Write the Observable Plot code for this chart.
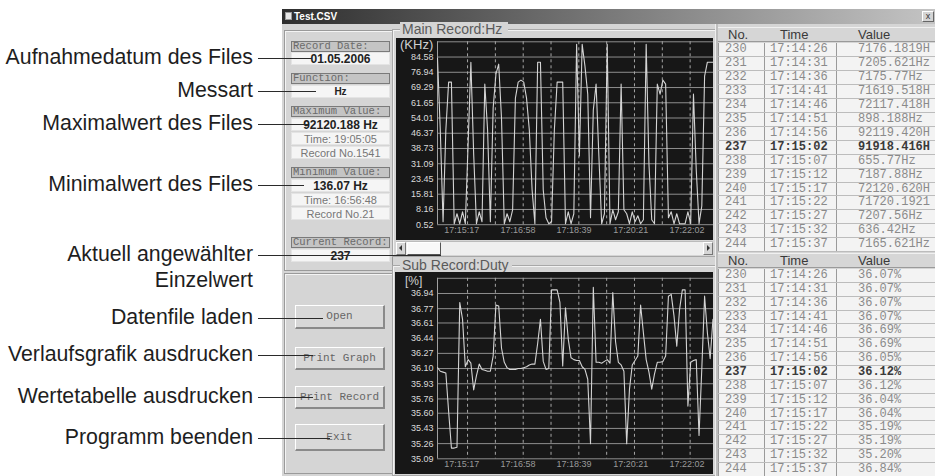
<!DOCTYPE html>
<html><head><meta charset="utf-8">
<script src="https://cdn.jsdelivr.net/npm/d3@7"></script>
<script src="https://cdn.jsdelivr.net/npm/@observablehq/plot@0.6"></script>
<style>
html,body{margin:0;padding:0;background:#fff;}
#root{position:relative;width:935px;height:476px;overflow:hidden;font-family:"Liberation Sans",Arial,sans-serif;}
#root div{box-sizing:border-box;}
.ann{position:absolute;font-size:21.3px;line-height:21px;color:#1e1e1e;white-space:nowrap;text-align:right;}
.wire{position:absolute;height:1px;background:#2a2a2a;}
.lbl{position:absolute;left:291px;width:99px;height:11px;border:1px solid #7a7a7a;background:#c4c4c4;font-family:"Liberation Mono",monospace;font-size:10.5px;line-height:9px;color:#6a6a6a;padding-left:1px;white-space:nowrap;overflow:hidden;}
.val{position:absolute;left:291px;width:99px;height:13px;background:#f5f5f5;border:1px solid #e4e4e4;text-align:center;font-size:11px;line-height:12px;color:#777;white-space:nowrap;}
.val.b{font-weight:bold;color:#222;font-size:12px;}
.btn{position:absolute;left:295px;width:90px;background:#d8d8d8;border-top:1px solid #fff;border-left:1px solid #fff;border-right:2px solid #8a8a8a;border-bottom:2px solid #8a8a8a;font-family:"Liberation Mono",monospace;font-size:11px;color:#666;text-align:center;white-space:nowrap;}
.cell{position:absolute;font-family:"Liberation Mono",monospace;font-size:12px;line-height:13px;color:#8a8a8a;white-space:nowrap;}
.hd{position:absolute;font-size:13px;color:#3a3a3a;white-space:nowrap;}
.arrow{position:absolute;width:0;height:0;border-top:3px solid transparent;border-bottom:3px solid transparent;}
</style>
</head><body><div id="root"></div>
<script>
// ---------------- data ----------------
const recordNo = [230,231,232,233,234,235,236,237,238,239,240,241,242,243,244];
const recordTime = ["17:14:26","17:14:31","17:14:36","17:14:41","17:14:46","17:14:51","17:14:56","17:15:02","17:15:07","17:15:12","17:15:17","17:15:22","17:15:27","17:15:32","17:15:37"];
const recordHz = ["7176.1819H","7205.621Hz","7175.77Hz","71619.518H","72117.418H","898.188Hz","92119.420H","91918.416H","655.77Hz","7187.88Hz","72120.620H","71720.1921","7207.56Hz","636.42Hz","7165.621Hz"];
const recordDuty = ["36.07%","36.07%","36.07%","36.07%","36.69%","36.69%","36.05%","36.12%","36.12%","36.04%","36.04%","35.19%","35.19%","35.20%","36.84%"];
const currentRecord = 237;

const fileInfo = {date:"01.05.2006", func:"Hz", maxVal:"92120.188 Hz", maxTime:"Time: 19:05:05", maxRec:"Record No.1541",
  minVal:"136.07 Hz", minTime:"Time: 16:56:48", minRec:"Record No.21"};

const chartStart = "17:14:56";   // first sample shown
const sampleStep = 5;            // seconds between samples
const chartSpan = 496;           // seconds visible in the window

// main record (kHz), one value per sample
const mainKHz = [84,48,2,48,72,72,1,6,1,7, 1,41,82,36,1,7,2,71,48,2,
  59,76,81,54,1,6,2,8,64,72, 73,72,64,48,18,1,82,82,18,4,
  1,2,48,72,72,72,1,7,1,6, 91,35,91,80,66,4,58,71,35,1,
  6,91,1,8,3,7,71,8,6,1, 7,2,5,1,3,91,31,3,1,71,
  66,73,71,4,7,1,6,1,1,1, 7,1,66,28,1,10,75,82,82,82];
// sub record (duty %), one value per sample
const subDuty = [36.11,36.07,36.06,36.05,35.62,35.21,35.21,35.22,36.84,36.65,
  36.12,36.20,36.16,35.86,36.02,36.15,36.09,36.08,36.07,36.07,
  36.24,36.81,36.80,36.33,36.17,36.11,36.09,36.09,36.09,36.10,
  36.10,36.11,36.12,36.14,36.15,36.15,36.38,36.65,36.18,36.09,
  36.10,36.98,36.98,36.98,36.84,36.13,36.78,36.43,36.22,36.20,
  36.19,36.19,36.12,36.09,35.98,35.26,37.01,36.17,36.17,36.16,
  36.18,36.20,36.16,36.95,36.40,36.17,36.14,36.07,35.26,35.87,
  36.14,36.19,36.24,36.81,36.50,36.20,36.06,35.87,36.04,36.17,
  36.17,36.18,36.24,36.91,36.93,36.69,36.35,36.76,36.98,36.98,
  35.68,36.17,36.19,36.20,35.35,36.10,36.91,36.50,36.21,36.65];

const mainTicks = [0.52,8.16,15.81,23.45,31.09,38.73,46.37,54.01,61.65,69.29,76.94,84.58];
const mainTop = 92.22;
const subTicks = [35.09,35.26,35.43,35.60,35.76,35.93,36.10,36.27,36.44,36.61,36.77,36.94];
const subTop = 37.11;
const timeLabels = ["17:15:17","17:16:58","17:18:39","17:20:21","17:22:02"];
const timeGrid = ["17:15:50","17:16:40","17:17:30","17:18:20","17:19:10","17:20:00","17:20:50","17:21:40","17:22:30"];

// ---------------- helpers ----------------
const toSec = s => { const [h,m,x] = s.split(":").map(Number); return h*3600+m*60+x; };
const t0 = toSec(chartStart);
const root = document.getElementById("root");
function el(cls, x, y, w, h, text, extra){
  const d = document.createElement("div");
  if (cls) d.className = cls;
  let css = "position:absolute;";
  if (x!=null) css += `left:${x}px;`;
  if (y!=null) css += `top:${y}px;`;
  if (w!=null) css += `width:${w}px;`;
  if (h!=null) css += `height:${h}px;`;
  d.style.cssText = css + (extra||"");
  if (text!=null) d.textContent = text;
  root.appendChild(d);
  return d;
}

// ---------------- window chrome ----------------
el(null, 282, 24, 653, 452, null, "background:#d5d5d5;");
el(null, 282, 9, 653, 15, null, "background:linear-gradient(90deg,#2e2e2e,#6a6a6a 40%,#c4c4c4);");
el(null, 285, 12, 7, 8, null, "background:#e8e8e8;border:1px solid #999;");
el(null, 294, 9, 80, 15, "Test.CSV", "color:#fff;font-weight:bold;font-size:10px;line-height:15px;");
el(null, 922, 11, 12, 11, "x", "background:#d4d4d4;border:1px solid #fff;border-right-color:#666;border-bottom-color:#666;font-size:9px;line-height:8px;text-align:center;color:#333;");

// left panels
el(null, 284, 30, 109, 241, null, "border:1px solid #9a9a9a;box-shadow:inset 1px 1px 0 #f4f4f4;");
el(null, 284, 273, 109, 201, null, "border:1px solid #9a9a9a;box-shadow:inset 1px 1px 0 #f4f4f4;");

// info fields
el("lbl", null, 41, null, null, "Record Date:");
el("val b", null, 52, null, null, fileInfo.date);
el("lbl", null, 73, null, null, "Function:");
el("val b", null, 85, null, null, fileInfo.func, "font-size:10px;");
el("lbl", null, 106, null, null, "Maximum Value:");
el("val b", null, 118, null, null, fileInfo.maxVal);
el("val", null, 132, null, null, fileInfo.maxTime);
el("val", null, 146, null, null, fileInfo.maxRec);
el("lbl", null, 167, null, null, "Minimum Value:");
el("val b", null, 179, null, null, fileInfo.minVal);
el("val", null, 193, null, null, fileInfo.minTime);
el("val", null, 207, null, null, fileInfo.minRec);
el("lbl", null, 237, null, null, "Current Record:");
el("val b", null, 249, null, null, String(currentRecord));

// buttons
[["Open",305,24],["Print Graph",347,23],["Print Record",386,23],["Exit",424,27]].forEach(([t,y,h])=>{
  el("btn", null, y, null, h, t, `line-height:${h-3}px;`);
});

// chart group boxes
el(null, 392, 29, 324, 228, null, "border:1px solid #a8a8a8;box-shadow:inset 1px 1px 0 #f2f2f2;");
el(null, 400, 22, 108, 15, "Main Record:Hz", "background:#d5d5d5;color:#5a5a5a;font-size:14px;line-height:15px;padding:0 2px;");
el(null, 392, 265, 324, 211, null, "border:1px solid #a8a8a8;box-shadow:inset 1px 1px 0 #f2f2f2;");
el(null, 400, 258, 112, 15, "Sub Record:Duty", "background:#d5d5d5;color:#5a5a5a;font-size:14px;line-height:15px;padding:0 2px;");

// scrollbar
el(null, 396, 241, 317, 14, null, "background:#efefef;border-top:1px solid #bbb;");
el(null, 396, 242, 10, 13, null, "background:#d6d6d6;border:1px solid #fff;border-right-color:#777;border-bottom-color:#777;");
el("arrow", 399, 245, null, null, null, "border-right:3px solid #333;");
el(null, 407, 242, 34, 13, null, "background:#f8f8f8;border:1px solid #fff;border-right-color:#555;border-bottom-color:#555;");
el(null, 703, 242, 10, 13, null, "background:#d6d6d6;border:1px solid #fff;border-right-color:#777;border-bottom-color:#777;");
el("arrow", 707, 245, null, null, null, "border-left:3px solid #333;");

// ---------------- charts ----------------
function chart(data, ticks, top, w, h, ml, mt, mb){
  return Plot.plot({
    width: w, height: h, marginLeft: ml, marginRight: 0, marginTop: mt, marginBottom: mb,
    x: {domain: [t0, t0 + chartSpan], axis: null},
    y: {domain: [ticks[0], top], axis: null},
    style: {background: "#171717", overflow: "visible"},
    marks: [
      Plot.ruleY([...ticks, top], {stroke: "#8e8e8e", strokeWidth: 1}),
      Plot.ruleX(timeGrid.map(toSec), {stroke: "#a6a6a6", strokeWidth: 1, strokeDasharray: "3,3"}),
      Plot.ruleX([t0], {stroke: "#a0a0a0", strokeWidth: 1}),
      Plot.line(data, {x: "t", y: "v", stroke: "#d4d4d4", strokeWidth: 1.1}),
      Plot.text(ticks, {frameAnchor: "left", y: d => d, text: d => d.toFixed(2), textAnchor: "end", dx: -4, fill: "#dadada", fontSize: 9, fontFamily: "Liberation Sans"}),
      Plot.text(timeLabels, {x: d => toSec(d), frameAnchor: "bottom", text: d => d, textAnchor: "start", dx: -5, dy: 8, fill: "#9a9a9a", fontSize: 9, fontFamily: "Liberation Sans"})
    ]
  });
}
const mainData = mainKHz.map((v,i) => ({t: t0 + i*sampleStep, v}));
const subData = subDuty.map((v,i) => ({t: t0 + i*sampleStep, v}));
const m = chart(mainData, mainTicks, mainTop, 317, 202, 41, 3.3, 15.8);
m.style.cssText += "position:absolute;left:396px;top:38px;";
root.appendChild(m);
const s = chart(subData, subTicks, subTop, 318, 202, 42, 5.8, 15.7);
s.style.cssText += "position:absolute;left:395px;top:272px;";
root.appendChild(s);
el(null, 400, 38, 40, 14, "(KHz)", "color:#d0d0d0;font-size:13px;line-height:14px;");
el(null, 405, 275, 20, 13, "[%]", "color:#d0d0d0;font-size:12px;line-height:13px;");

// ---------------- tables ----------------
el(null, 715, 24, 3, 452, null, "background:#bdbdbd;border-left:1px solid #eee;");
function table(y0, rowH, values, hdrY){
  el(null, 718, hdrY, 217, 15, null, "background:#d6d6d6;border-bottom:1px solid #9a9a9a;border-top:1px solid #f0f0f0;");
  el("hd", 728, hdrY, null, 15, "No.", "line-height:15px;");
  el("hd", 780, hdrY, null, 15, "Time", "line-height:15px;");
  el("hd", 858, hdrY, null, 15, "Value", "line-height:15px;");
  el(null, 718, y0, 217, rowH*recordNo.length, null, "background:#f3f3f3;border-left:1px solid #9a9a9a;");
  el(null, 764, y0, 1, rowH*recordNo.length, null, "background:#9a9a9a;");
  el(null, 836, y0, 1, rowH*recordNo.length, null, "background:#9a9a9a;");
  recordNo.forEach((n,i)=>{
    const y = y0 + i*rowH;
    el(null, 718, y + rowH - 1, 217, 1, null, "background:#bcbcbc;");
    const cur = n === currentRecord ? "color:#3a3a3a;font-weight:bold;" : "";
    el("cell", 725, y, null, rowH, String(n), `line-height:${rowH}px;` + cur);
    el("cell", 770, y, null, rowH, recordTime[i], `line-height:${rowH}px;` + cur);
    el("cell", 858, y, null, rowH, values[i], `line-height:${rowH}px;` + cur);
  });
}
table(43, 13.95, recordHz, 27);
table(269, 13.86, recordDuty, 253);

// ---------------- annotations ----------------
const notes = [
  ["Aufnahmedatum des Files", 58, 312],
  ["Messart", 91, 316],
  ["Maximalwert des Files", 124, 308],
  ["Minimalwert des Files", 185, 304],
  ["Aktuell angewählter", 255, 441],
  ["Einzelwert", 281, null],
  ["Datenfile laden", 318, 323],
  ["Verlaufsgrafik ausdrucken", 355, 313],
  ["Wertetabelle ausdrucken", 397, 313],
  ["Programm beenden", 438, 330]
];
notes.forEach(([t, y, x2]) => {
  el("ann", null, y - 11, null, null, t, "right:682px;");
  if (x2 != null) el("wire", 258, y, x2 - 258, 1);
});
</script></body></html>
